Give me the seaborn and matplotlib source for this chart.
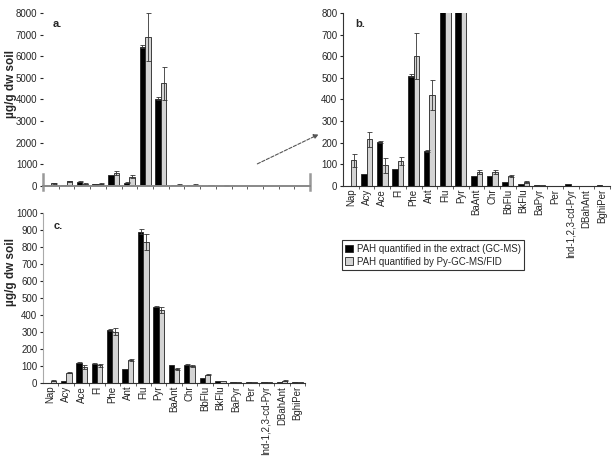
import numpy as np
import pandas as pd
import matplotlib
matplotlib.use("Agg")
import matplotlib.pyplot as plt
from matplotlib.patches import Patch
import seaborn as sns

# PAH names
pahs = ["Nap", "Acy", "Ace", "Fl", "Phe", "Ant", "Flu", "Pyr", "BaAnt", "Chr",
        "BbFlu", "BkFlu", "BaPyr", "Per", "Ind-1,2,3-cd-Pyr", "DBahAnt", "BghiPer"]

# soil 1 (panels a and b)
s1_gcms = [0, 55, 205, 80, 510, 160, 6440, 4040, 45, 47, 17, 9, 5, 2, 7, 0, 5]
s1_gcms_err = [0, 0, 5, 0, 8, 5, 80, 80, 0, 0, 0, 0, 0, 0, 0, 0, 0]
s1_py = [120, 215, 95, 115, 600, 420, 6900, 4740, 65, 65, 45, 20, 5, 0, 0, 0, 0]
s1_py_err = [30, 35, 35, 20, 105, 70, 1100, 770, 10, 10, 5, 4, 0, 0, 0, 0, 0]

# soil 2 (panel c)
s2_gcms = [0, 10, 120, 114, 311, 81, 890, 449, 108, 108, 29, 12, 8, 3, 5, 3, 5]
s2_gcms_err = [0, 0, 4, 3, 5, 0, 15, 5, 0, 5, 0, 0, 0, 0, 0, 0, 0]
s2_py = [14, 59, 96, 104, 302, 138, 830, 429, 84, 100, 49, 14, 6, 3, 5, 12, 5]
s2_py_err = [3, 3, 12, 8, 20, 6, 45, 20, 5, 5, 3, 0, 0, 0, 0, 3, 0]

methods = ["PAH quantified in the extract (GC-MS)", "PAH quantified by Py-GC-MS/FID"]
colors = ["black", "#d3d3d3"]

sns.set_style("white")
plt.rcParams["font.family"] = ["Liberation Sans", "DejaVu Sans"]


def make_df(a, b):
    return pd.DataFrame({
        "PAH": pahs * 2,
        "method": [methods[0]] * len(pahs) + [methods[1]] * len(pahs),
        "value": list(a) + list(b),
    })


def draw(ax, a, ae, b, be):
    df = make_df(a, b)
    sns.barplot(data=df, x="PAH", y="value", hue="method", hue_order=methods,
                palette=colors, width=0.7, errorbar=None, legend=False, ax=ax,
                edgecolor="#222222", linewidth=0.6)
    for cont, err in zip(ax.containers, [ae, be]):
        xs = [p.get_x() + p.get_width() / 2 for p in cont]
        ys = [p.get_height() for p in cont]
        e = np.array(err, dtype=float)
        m = e > 0
        ax.errorbar(np.array(xs)[m], np.array(ys)[m], yerr=e[m], fmt="none",
                    ecolor="#333333", elinewidth=0.6, capsize=1.8, capthick=0.6)
    ax.set_xlim(-0.5, len(pahs) - 0.5)
    ax.set_xlabel("")
    ax.set_ylabel("")
    ax.set_xticks(np.arange(len(pahs)) + 0.5, minor=True)
    ax.tick_params(axis="x", which="major", length=0, labelsize=7, rotation=90, pad=2)
    ax.tick_params(axis="x", which="minor", length=2.5, direction="out", bottom=True, color="#444444")
    ax.tick_params(axis="y", length=2.5, direction="out", left=True, labelsize=7, pad=1.5)


fig = plt.figure(figsize=(6.14, 4.69), dpi=100)
ax_a = fig.add_axes([0.070, 0.6034, 0.435, 0.369])
ax_b = fig.add_axes([0.5586, 0.6034, 0.435, 0.369])
ax_c = fig.add_axes([0.070, 0.1834, 0.427, 0.3625])

# panel a
draw(ax_a, s1_gcms, s1_gcms_err, s1_py, s1_py_err)
ax_a.set_ylim(0, 8000)
ax_a.set_yticks(np.arange(0, 8001, 1000))
ax_a.set_xticklabels([])
ax_a.spines["top"].set_visible(False)
for s in ["left", "right"]:
    ax_a.spines[s].set_bounds(-200, 550)
    ax_a.spines[s].set_color("#999999")
    ax_a.spines[s].set_linewidth(1.8)
ax_a.spines["bottom"].set_color("#888888")
ax_a.spines["bottom"].set_linewidth(1.4)
ax_a.text(0.035, 0.965, "a.", transform=ax_a.transAxes, fontsize=8, fontweight="bold", va="top")

# panel b (zoom of a)
draw(ax_b, s1_gcms, s1_gcms_err, s1_py, s1_py_err)
ax_b.set_ylim(0, 800)
ax_b.set_yticks(np.arange(0, 801, 100))
for s in ["top", "right"]:
    ax_b.spines[s].set_visible(False)
for s in ["left", "bottom"]:
    ax_b.spines[s].set_color("#333333")
    ax_b.spines[s].set_linewidth(0.8)
ax_b.text(0.045, 0.965, "b.", transform=ax_b.transAxes, fontsize=8, fontweight="bold", va="top")

# panel c
draw(ax_c, s2_gcms, s2_gcms_err, s2_py, s2_py_err)
ax_c.set_ylim(0, 1000)
ax_c.set_yticks(np.arange(0, 1001, 100))
for s in ["top", "right"]:
    ax_c.spines[s].set_visible(False)
ax_c.spines["left"].set_color("#aaaaaa")
ax_c.spines["bottom"].set_color("#333333")
ax_c.spines["left"].set_linewidth(0.8)
ax_c.spines["bottom"].set_linewidth(0.8)
ax_c.text(0.04, 0.95, "c.", transform=ax_c.transAxes, fontsize=8, fontweight="bold", va="top")

# y labels
fig.text(0.018, 0.82, "µg/g dw soil", rotation=90, ha="center", va="center",
         fontsize=8.5, fontweight="bold")
fig.text(0.018, 0.42, "µg/g dw soil", rotation=90, ha="center", va="center",
         fontsize=8.5, fontweight="bold")

# dashed arrow from a to b
fig.add_artist(matplotlib.patches.FancyArrowPatch(
    (0.415, 0.648), (0.523, 0.716), transform=fig.transFigure,
    arrowstyle="-|>", mutation_scale=7, linestyle=(0, (3, 1.5)),
    color="#555555", linewidth=0.8))

# legend
handles = [Patch(facecolor=c, edgecolor="#222222", linewidth=0.6) for c in colors]
leg = fig.legend(handles, methods, loc="lower left", bbox_to_anchor=(0.549, 0.414),
                 fontsize=7, frameon=True, fancybox=False, handlelength=0.8,
                 handleheight=0.8, handletextpad=0.4, borderpad=0.35, labelspacing=0.3)
leg.get_frame().set_edgecolor("black")
leg.get_frame().set_linewidth(0.8)

fig.savefig("out.png", dpi=100)
